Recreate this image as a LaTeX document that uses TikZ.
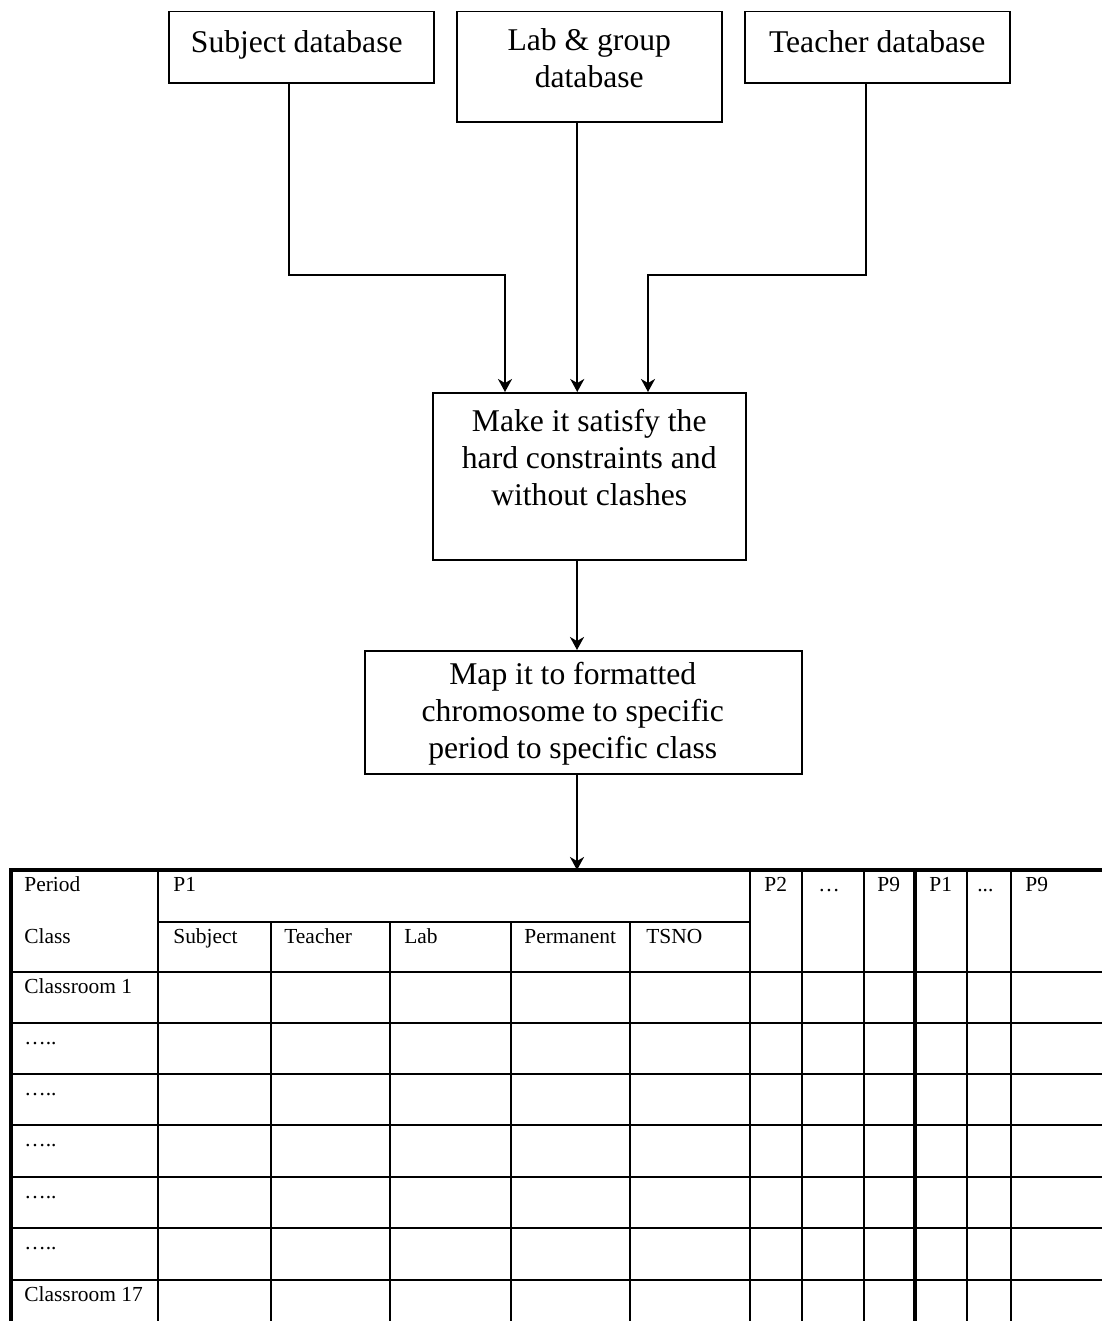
\documentclass[tikz,border=0pt]{standalone}
\usepackage{fontspec}
\setmainfont{Liberation Serif}
\usetikzlibrary{arrows.meta,positioning}

\newcommand{\boxfont}{\fontsize{18}{20.8}\selectfont}
\newcommand{\cellfont}{\fontsize{12.2}{14}\selectfont}

\tikzstyle{box} = [draw, rectangle, line width=0.3mm, inner sep=0pt, anchor=north west]
\tikzstyle{boxtext} = [font=\boxfont, align=center, inner sep=0pt, anchor=base]
\tikzstyle{conn} = [line width=0.4mm, -{Stealth[length=2.6mm,width=2.8mm,inset=0.8mm]}]
\tikzstyle{cell} = [font=\cellfont, inner sep=0pt, anchor=base west]
\tikzstyle{grid} = [line width=0.35mm]
\tikzstyle{border} = [line width=0.8mm]

\begin{document}
\begin{tikzpicture}[x=0.2mm, y=-0.2mm]
\useasboundingbox (0,0) rectangle (1102,1321);
\clip (0,0) rectangle (1102,1321);

% the three databases
\node[box, minimum width=53mm, minimum height=14.2mm] (subj) at (168,11) {};
\node[box, minimum width=53mm, minimum height=22mm] (lab) at (456,11) {};
\node[box, minimum width=53mm, minimum height=14.2mm] (teach) at (744,11) {};
% (base of a two or three line text is its last line)
\node[boxtext] (subjtxt) at ([xshift=-0.9mm,yshift=-8.2mm]subj.north) {Subject database};
\node[boxtext] (labtxt) at ([yshift=-15.3mm]lab.north) {Lab \& group\\database};
\node[boxtext] (teachtxt) at ([yshift=-8.2mm]teach.north) {Teacher database};

% processing steps
\node[box, minimum width=62.6mm, minimum height=33.4mm] (make) at (432,392) {};
\node[boxtext] (maketxt) at ([yshift=-22.6mm]make.north) {Make it satisfy the\\hard constraints and\\without clashes};
\node[box, minimum width=87.4mm, minimum height=24.6mm] (map) at (364,650) {};
\node[boxtext] (maptxt) at ([xshift=-2.1mm,yshift=-21.6mm]map.north) {Map it to formatted\\chromosome to specific\\period to specific class};

% connectors
\coordinate (jleft) at (505,275);
\coordinate (jright) at (648,275);
\coordinate (tabletop) at (577,870);
\draw[conn] ([xshift=-2.5mm]subj.south) |- (jleft) -- (jleft |- make.north);
\draw[conn] ([xshift=-2.4mm]lab.south) -- ([xshift=-2.4mm]lab.south |- make.north);
\draw[conn] ([xshift=-2.3mm]teach.south) |- (jright) -- (jright |- make.north);
\draw[conn] (tabletop |- make.south) -- (tabletop |- map.north);
\draw[conn] (tabletop |- map.south) -- (tabletop);

% chromosome table
\draw[border] (11,1321) -- (11,870) -- (1102,870);
\draw[border] (915,870) -- (915,1321);
\draw[grid] (158,922) -- (750,922);
\foreach \y in {972,1023,1074,1125,1177,1228,1280}
    \draw[grid] (11,\y) -- (1102,\y);
\foreach \x in {158,750,802,864,967,1011}
    \draw[grid] (\x,870) -- (\x,1321);
\foreach \x in {271,390,511,630}
    \draw[grid] (\x,922) -- (\x,1321);

% header cells
\node[cell] (period) at (24,891) {Period};
\node[cell] (pone) at (173,891) {P1};
\node[cell] (ptwo) at (764,891) {P2};
\node[cell] (pdots) at (818,891) {…};
\node[cell] (pnine) at (877,891) {P9};
\node[cell] (ponenext) at (929,891) {P1};
\node[cell] (pdotsnext) at (977,891) {...};
\node[cell] (pninenext) at (1025,891) {P9};
\node[cell] (class) at (24,943) {Class};
\node[cell] (subject) at (173,943) {Subject};
\node[cell] (teacher) at (284,943) {Teacher};
\node[cell] (labcol) at (404,943) {Lab};
\node[cell] (permanent) at (524,943) {Permanent};
\node[cell] (tsno) at (646,943) {TSNO};

% classroom rows
\node[cell] (roomfirst) at (24,993) {Classroom 1};
\node[cell] (roomb) at (24,1044) {…..};
\node[cell] (roomc) at (24,1095) {…..};
\node[cell] (roomd) at (24,1146) {…..};
\node[cell] (roome) at (24,1198) {…..};
\node[cell] (roomf) at (24,1249) {…..};
\node[cell] (roomlast) at (24,1301) {Classroom 17};
\end{tikzpicture}
\end{document}
